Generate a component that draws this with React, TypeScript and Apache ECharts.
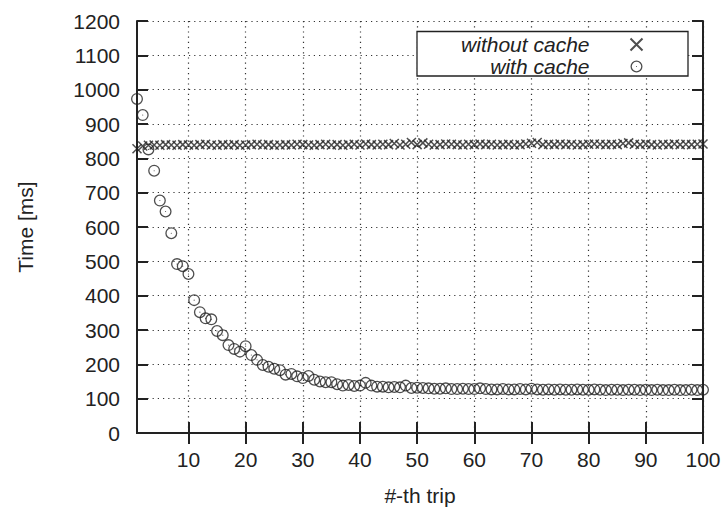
import React, { useEffect, useRef } from "react";
import * as echarts from "echarts";

const trips: number[] = [
  1, 2, 3, 4, 5, 6, 7, 8, 9, 10,
  11, 12, 13, 14, 15, 16, 17, 18, 19, 20,
  21, 22, 23, 24, 25, 26, 27, 28, 29, 30,
  31, 32, 33, 34, 35, 36, 37, 38, 39, 40,
  41, 42, 43, 44, 45, 46, 47, 48, 49, 50,
  51, 52, 53, 54, 55, 56, 57, 58, 59, 60,
  61, 62, 63, 64, 65, 66, 67, 68, 69, 70,
  71, 72, 73, 74, 75, 76, 77, 78, 79, 80,
  81, 82, 83, 84, 85, 86, 87, 88, 89, 90,
  91, 92, 93, 94, 95, 96, 97, 98, 99, 100,
];

const withoutCache: number[] = [
  828, 836, 838, 839, 838, 840, 839, 838, 840, 839,
  838, 840, 841, 839, 838, 840, 839, 840, 838, 839,
  840, 841, 839, 840, 838, 839, 840, 839, 841, 840,
  839, 838, 840, 841, 839, 840, 838, 840, 841, 839,
  842, 840, 839, 841, 840, 843, 839, 841, 846, 840,
  845, 841, 839, 840, 842, 841, 840, 839, 841, 840,
  842, 840, 841, 839, 840, 841, 839, 840, 842, 844,
  846, 840, 841, 840, 842, 840, 841, 839, 840, 841,
  842, 841, 840, 841, 840, 843, 845, 841, 840, 842,
  840, 839, 841, 840, 842, 840, 841, 840, 841, 842,
];

const withCache: number[] = [
  973, 926, 826, 764, 677, 645, 582, 492, 486, 463,
  387, 352, 334, 331, 297, 285, 256, 245, 237, 253,
  227, 213, 198, 193, 187, 183, 170, 172, 165, 160,
  166, 155, 150, 148, 148, 142, 138, 140, 137, 138,
  146, 138, 135, 135, 133, 134, 133, 138, 131, 132,
  131, 130, 129, 129, 130, 128, 128, 129, 128, 128,
  130, 128, 127, 127, 128, 127, 127, 128, 127, 129,
  127, 126, 127, 126, 127, 126, 126, 127, 126, 126,
  127, 126, 125, 126, 126, 125, 126, 126, 125, 126,
  125, 126, 125, 125, 126, 125, 125, 126, 125, 126,
];

const xTickValues: number[] = [10, 20, 30, 40, 50, 60, 70, 80, 90, 100];
const seriesNames: string[] = ["without cache", "with cache"];
const axisNames = { x: "#-th trip", y: "Time [ms]" };

const FONT = "Liberation Sans";
const INK = "#222";

const crossPath = "path://M0,0L10,10M0,10L10,0";
const circleDotPath =
  "path://M0,6a6,6 0 1,0 12,0a6,6 0 1,0 -12,0Z" +
  "M1.3,6a4.7,4.7 0 1,1 9.4,0a4.7,4.7 0 1,1 -9.4,0Z" +
  "M5.45,6a0.55,0.55 0 1,0 1.1,0a0.55,0.55 0 1,0 -1.1,0Z";

export default function App() {
  const ref = useRef<HTMLDivElement>(null);

  useEffect(() => {
    if (!ref.current) return;
    const chart = echarts.init(ref.current, undefined, { renderer: "svg" });

    const mkTick = () => ({
      show: true,
      inside: true,
      length: 11,
      lineStyle: { color: INK, width: 2, type: "solid" },
    });
    const mkLine = () => ({ show: true, lineStyle: { color: INK, width: 2 } });
    const dotted = () => ({ show: true, lineStyle: { color: "#333", width: 1.2, type: [1.2, 4] as number[] } });

    chart.setOption({
      animation: false,
      backgroundColor: "#fff",
      textStyle: { fontFamily: FONT },
      grid: { left: 137, right: 25, top: 21, bottom: 74, outerBoundsMode: "none", containLabel: false },
      legend: {
        data: seriesNames,
        orient: "vertical",
        right: 83,
        top: 34,
        padding: 0,
        itemGap: 1,
        itemWidth: 12,
        itemHeight: 12,
        align: "right",
        selectedMode: false,
        textStyle: {
          fontFamily: FONT,
          fontSize: 21,
          lineHeight: 20,
          fontStyle: "italic",
          color: INK,
          padding: [0, 36, 0, 0],
        },
        z: 10,
      },
      graphic: [
        {
          type: "rect",
          z: 5,
          shape: { x: 417, y: 31.5, width: 271, height: 44.5 },
          style: { fill: "#fff", stroke: INK, lineWidth: 1.3 },
        },
      ],
      xAxis: [
        {
          type: "value",
          position: "bottom",
          min: 1,
          max: 100,
          name: axisNames.x,
          nameLocation: "middle",
          nameGap: 52,
          nameTextStyle: { fontSize: 21, color: INK, fontFamily: FONT },
          axisLine: mkLine(),
          axisTick: { ...mkTick(), customValues: xTickValues },
          axisLabel: { customValues: xTickValues, fontSize: 21, color: INK, margin: 16, fontFamily: FONT },
          splitLine: dotted(),
        },
        {
          type: "value",
          position: "top",
          min: 1,
          max: 100,
          axisLine: mkLine(),
          axisTick: { ...mkTick(), customValues: xTickValues },
          axisLabel: { show: false },
          splitLine: { show: false },
        },
      ],
      yAxis: [
        {
          type: "value",
          position: "left",
          min: 0,
          max: 1200,
          interval: 100,
          name: axisNames.y,
          nameLocation: "middle",
          nameGap: 101,
          nameTextStyle: { fontSize: 21, color: INK, fontFamily: FONT },
          axisLine: mkLine(),
          axisTick: mkTick(),
          axisLabel: {
            fontSize: 21,
            color: INK,
            margin: 17,
            fontFamily: FONT,
            formatter: (v: number) => String(v),
          },
          splitLine: dotted(),
        },
        {
          type: "value",
          position: "right",
          min: 0,
          max: 1200,
          interval: 100,
          axisLine: mkLine(),
          axisTick: mkTick(),
          axisLabel: { show: false },
          splitLine: { show: false },
        },
      ],
      series: [
        {
          name: seriesNames[0],
          type: "scatter",
          clip: false,
          symbol: crossPath,
          symbolSize: 9,
          itemStyle: { color: "none", borderColor: INK, borderWidth: 1.5 },
          data: trips.map((t, i) => [t, withoutCache[i]]),
        },
        {
          name: seriesNames[1],
          type: "scatter",
          clip: false,
          symbol: circleDotPath,
          symbolSize: 12,
          itemStyle: { color: INK },
          data: trips.map((t, i) => [t, withCache[i]]),
        },
      ],
    });

    return () => chart.dispose();
  }, []);

  return <div ref={ref} style={{ position: "absolute", left: 0, top: 0, width: 728, height: 507 }} />;
}
